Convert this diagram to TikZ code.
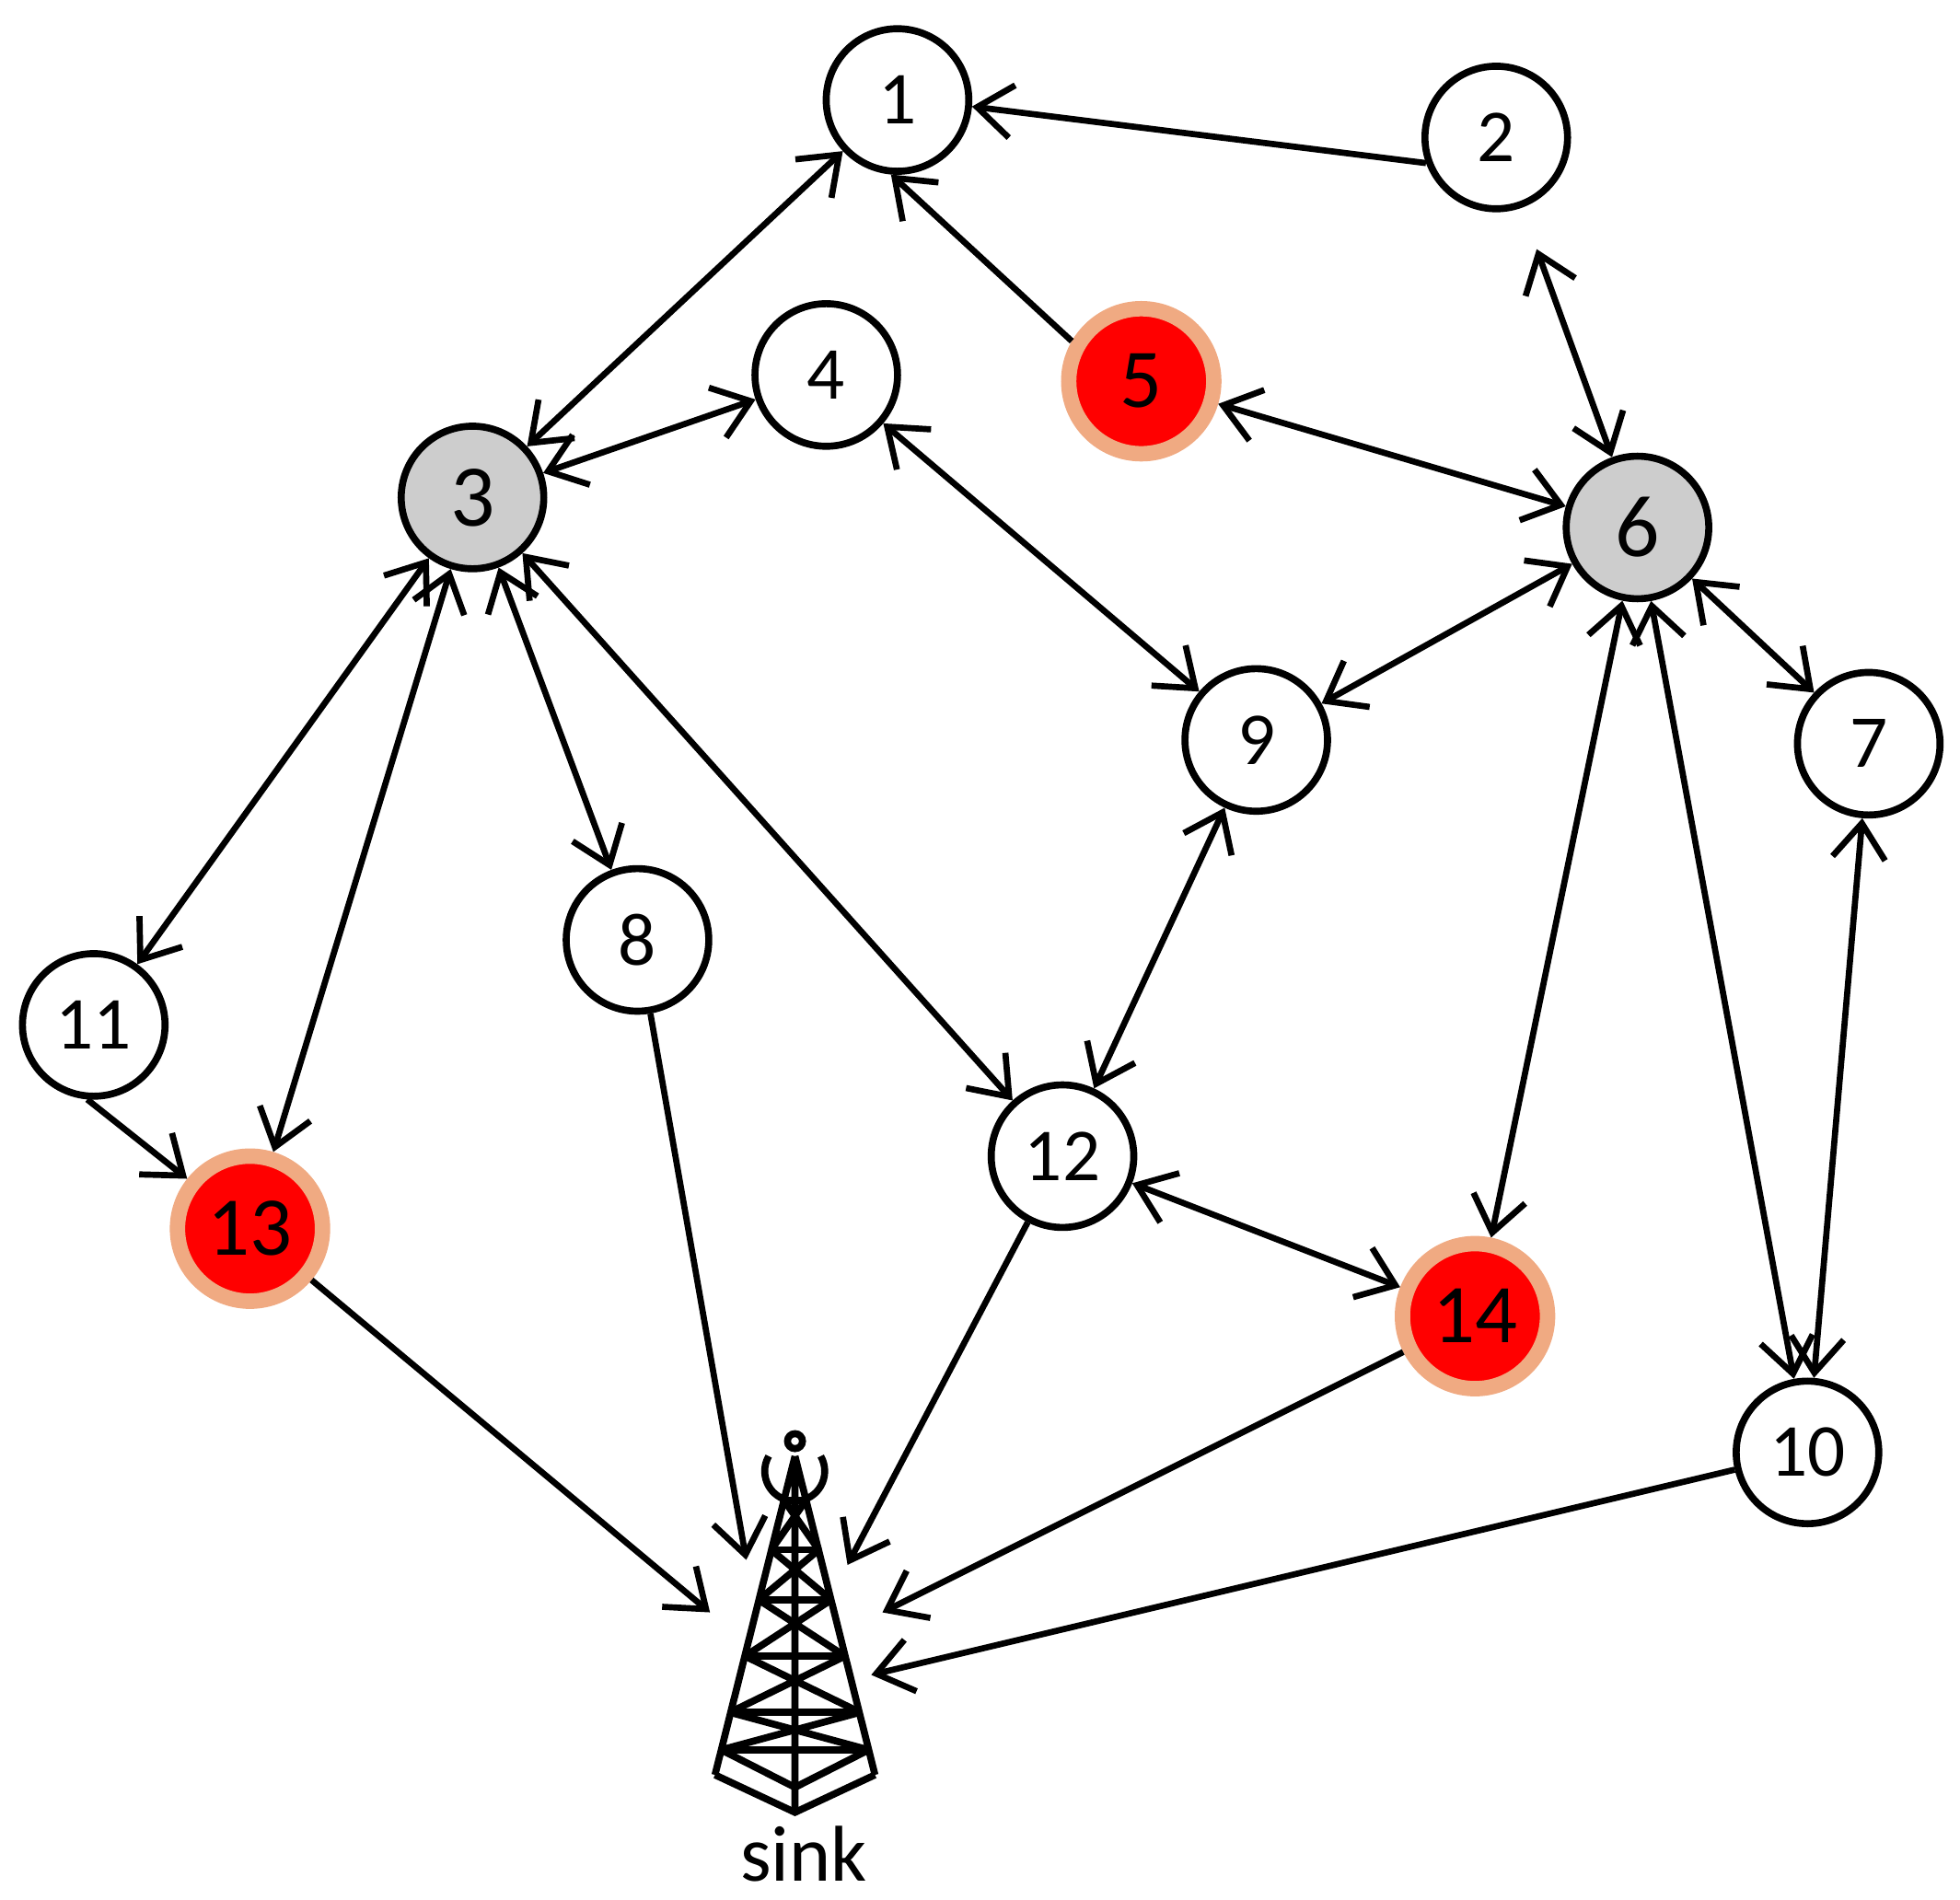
\documentclass[tikz,border=0pt]{standalone}
\usepackage{fontspec}
\setmainfont{Carlito}
\usetikzlibrary{arrows.meta}
\definecolor{ring}{RGB}{240,170,130}
\definecolor{gr}{RGB}{205,205,205}
\begin{document}
\begin{tikzpicture}[x=0.01cm,y=-0.01cm,
 nd/.style={circle,draw,line width=1.6pt,minimum size=1.14cm,inner sep=0pt,font=\fontsize{17}{20}\selectfont,fill=white},
 gray/.style={nd,fill=gr,font=\fontsize{20}{22}\selectfont},
 hot/.style={nd,fill=red,draw=ring,line width=3.5pt,minimum size=1.16cm,font=\fontsize{19}{22}\selectfont},
 e/.style={line width=1.4pt,-{Straight Barb[length=8pt,width=12pt]}},
 b/.style={line width=1.4pt,{Straight Barb[length=8pt,width=12pt]}-{Straight Barb[length=8pt,width=12pt]}},
 t/.style={line width=1.6pt}]
\useasboundingbox (0,0) rectangle (1568,1520);
\node[nd] (n1) at (718,80) {1};
\node[nd] (n2) at (1197,110) {2};
\node[gray] (n3) at (378,398) {3};
\node[nd] (n4) at (661,300) {4};
\node[hot] (n5) at (913,305) {5};
\node[gray] (n6) at (1310,422) {6};
\node[nd] (n7) at (1495,595) {7};
\node[nd] (n8) at (510,752) {8};
\node[nd] (n9) at (1005,592) {9};
\node[nd] (n10) at (1446,1162) {10};
\node[nd] (n11) at (75,820) {11};
\node[nd] (n12) at (850,925) {12};
\node[hot] (n13) at (200,983) {13};
\node[hot] (n14) at (1180,1053) {14};
\coordinate (s13) at (568,1290);
\coordinate (s8) at (597,1248);
\coordinate (s12) at (678,1252);
\coordinate (s14) at (706,1290);
\coordinate (s10) at (697,1340);
\draw[e] (n2.-160) -- (n1.-5);
\draw[e] (n5.150) -- (n1.-95);
\draw[b] (n1) -- (n3);
\draw[b] (n3) -- (n4);
\draw[b] (n4) -- (n9);
\draw[b] (n5) -- (n6);
\draw[b,shorten <=10pt] (n2) -- (n6);
\draw[b] (n6) -- (n9);
\draw[b] (n6) -- (n7);
\draw[b] (n6) -- (n14);
\draw[b] (n6) -- (n10);
\draw[b] (n7) -- (n10);
\draw[b] (n3) -- (n11);
\draw[b] (n3) -- (n13);
\draw[b] (n3) -- (n8);
\draw[b] (n3) -- (n12);
\draw[b] (n9) -- (n12);
\draw[b] (n12) -- (n14);
\draw[e] (n11.-95) -- (n13);
\draw[e] (n13) -- (s13);
\draw[e] (n8) -- (s8);
\draw[e] (n12) -- (s12);
\draw[e] (n14) -- (s14);
\draw[e] (n10) -- (s10);
% tower
\coordinate (top) at (636,1165);
\draw[t] (636,1153) circle (6);
\draw[t] (615,1165) arc (210:-30:24);
\draw[t] (top) -- (572,1420) (top) -- (700,1420) (top) -- (636,1450);
\foreach \y/\w in {1200/9,1240/19,1280/29,1325/40,1370/52,1400/59}{
  \draw[t] (636-\w,\y) -- (636+\w,\y);}
\foreach \ya/\wa/\yb/\wb in {1200/9/1240/19,1240/19/1280/29,1280/29/1325/40,1325/40/1370/52,1370/52/1400/59}{
  \draw[t] (636-\wa,\ya) -- (636+\wb,\yb) (636+\wa,\ya) -- (636-\wb,\yb);}
\draw[t] (572,1420) -- (636,1450) -- (700,1420);
\draw[t] (577,1400) -- (636,1430) -- (695,1400);
\node[font=\fontsize{18}{20}\selectfont] (sink) at (643,1483) {sink};
\end{tikzpicture}
\end{document}
